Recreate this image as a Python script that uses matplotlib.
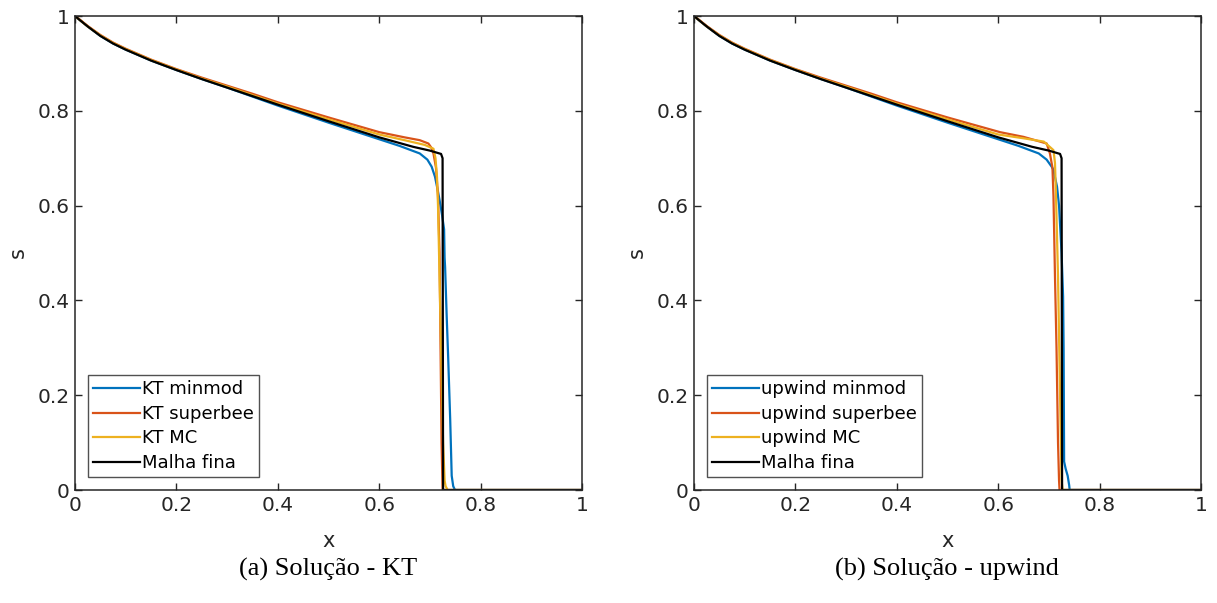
import matplotlib
matplotlib.use("Agg")
import matplotlib.pyplot as plt

# ---------------- data ----------------
ticks = [0, 0.2, 0.4, 0.6, 0.8, 1]
tick_labels = ["0", "0.2", "0.4", "0.6", "0.8", "1"]

# fine mesh reference (same in both panels)
x_fine = [0, 0.01, 0.025, 0.05, 0.075, 0.1, 0.15, 0.2, 0.25, 0.3, 0.35, 0.4, 0.5, 0.6, 0.667,
          0.7, 0.722, 0.725, 0.726, 1.0]
s_fine = [1, 0.991, 0.978, 0.958, 0.942, 0.929, 0.906, 0.886, 0.867, 0.849, 0.831, 0.813,
          0.778, 0.744, 0.724, 0.716, 0.709, 0.700, 0.0, 0.0]

# KT panel
x_kt_minmod = [0, 0.01, 0.025, 0.05, 0.075, 0.1, 0.15, 0.2, 0.25, 0.3, 0.35, 0.4, 0.5, 0.6,
               0.64, 0.68, 0.695, 0.7035, 0.71, 0.715, 0.719, 0.724, 0.728, 0.729, 0.730,
               0.733, 0.736, 0.740, 0.743, 0.746, 0.7495, 1.0]
s_kt_minmod = [1, 0.991, 0.978, 0.958, 0.942, 0.929, 0.906, 0.886, 0.867, 0.849, 0.830, 0.811,
               0.775, 0.740, 0.726, 0.710, 0.697, 0.682, 0.661, 0.635, 0.612, 0.58, 0.55,
               0.49, 0.47, 0.37, 0.281, 0.15, 0.03, 0.008, 0, 0]

x_kt_superbee = [0, 0.01, 0.025, 0.05, 0.075, 0.1, 0.15, 0.2, 0.25, 0.3, 0.35, 0.4, 0.5, 0.6,
                 0.65, 0.68, 0.697, 0.703, 0.707, 0.712, 0.716, 0.719, 0.721, 0.723, 0.725, 1.0]
s_kt_superbee = [1, 0.992, 0.979, 0.960, 0.944, 0.931, 0.908, 0.888, 0.870, 0.853, 0.836,
                 0.818, 0.786, 0.755, 0.744, 0.738, 0.731, 0.722, 0.710, 0.68, 0.62, 0.5, 0.3,
                 0.1, 0, 0]

x_kt_mc = [0, 0.01, 0.025, 0.05, 0.075, 0.1, 0.15, 0.2, 0.25, 0.3, 0.35, 0.4, 0.5, 0.6, 0.65,
           0.69, 0.707, 0.711, 0.714, 0.716, 0.72, 0.726, 0.729, 0.731, 0.735, 1.0]
s_kt_mc = [1, 0.991, 0.978, 0.959, 0.943, 0.930, 0.907, 0.887, 0.868, 0.851, 0.833, 0.815,
           0.782, 0.750, 0.738, 0.728, 0.720, 0.70, 0.66, 0.6, 0.4, 0.1, 0.02, 0.008, 0, 0]

# upwind panel
x_up_minmod = [0, 0.01, 0.025, 0.05, 0.075, 0.1, 0.15, 0.2, 0.25, 0.3, 0.35, 0.4, 0.5, 0.6,
               0.64, 0.68, 0.6955, 0.7055, 0.709, 0.712, 0.716, 0.72, 0.725, 0.728, 0.729,
               0.730, 0.733, 0.737, 0.740, 0.741, 1.0]
s_up_minmod = [1, 0.991, 0.978, 0.958, 0.942, 0.929, 0.906, 0.886, 0.867, 0.849, 0.830, 0.811,
               0.775, 0.740, 0.726, 0.710, 0.697, 0.682, 0.675, 0.66, 0.64, 0.6, 0.5, 0.408,
               0.3, 0.06, 0.045, 0.03, 0.01, 0, 0]

x_up_superbee = [0, 0.01, 0.025, 0.05, 0.075, 0.1, 0.15, 0.2, 0.25, 0.3, 0.35, 0.4, 0.5,
                 0.6035, 0.65, 0.6956, 0.702, 0.707, 0.709, 0.712, 0.715, 0.718, 0.72, 0.721,
                 1.0]
s_up_superbee = [1, 0.992, 0.979, 0.960, 0.944, 0.931, 0.908, 0.888, 0.870, 0.853, 0.836,
                 0.818, 0.786, 0.755, 0.745, 0.731, 0.710, 0.68, 0.62, 0.45, 0.3, 0.1, 0.02,
                 0, 0]

x_up_mc = [0, 0.01, 0.025, 0.05, 0.075, 0.1, 0.15, 0.2, 0.25, 0.3, 0.35, 0.4, 0.5, 0.6, 0.65,
           0.69, 0.709, 0.712, 0.714, 0.718, 0.722, 0.725, 0.727, 1.0]
s_up_mc = [1, 0.991, 0.978, 0.959, 0.943, 0.930, 0.907, 0.887, 0.868, 0.851, 0.833, 0.815,
           0.782, 0.750, 0.742, 0.735, 0.717, 0.69, 0.62, 0.45, 0.2, 0.02, 0, 0]

labels_kt = ["KT minmod", "KT superbee", "KT MC", "Malha fina"]
labels_up = ["upwind minmod", "upwind superbee", "upwind MC", "Malha fina"]
captions = ["(a) Solução - KT", "(b) Solução - upwind"]

colors = ["#0072BD", "#D95319", "#EDB120", "#000000"]

# ---------------- figure ----------------
plt.rcParams["font.family"] = ["DejaVu Sans"]
fig = plt.figure(figsize=(12.17, 6.03), dpi=100)

W, H = 1217.0, 603.0
ax1 = fig.add_axes([75 / W, 1 - 490 / H, 507 / W, 474 / H])
ax2 = fig.add_axes([694 / W, 1 - 490 / H, 507 / W, 474 / H])

panels = [
    (ax1, [(x_kt_minmod, s_kt_minmod), (x_kt_superbee, s_kt_superbee),
           (x_kt_mc, s_kt_mc), (x_fine, s_fine)], labels_kt),
    (ax2, [(x_up_minmod, s_up_minmod), (x_up_superbee, s_up_superbee),
           (x_up_mc, s_up_mc), (x_fine, s_fine)], labels_up),
]

axcol = "#262626"
for ax, series, labels in panels:
    for (xs, ss), c, lab in zip(series, colors, labels):
        ax.plot(xs, ss, color=c, lw=1.6, label=lab)
    ax.set_xlim(0, 1)
    ax.set_ylim(0, 1)
    ax.set_xticks(ticks)
    ax.set_xticklabels(tick_labels)
    ax.set_yticks(ticks)
    ax.set_yticklabels(tick_labels)
    ax.tick_params(direction="in", length=5, width=1, top=True, right=True,
                   labelsize=14.5, colors=axcol, pad=4)
    for sp in ax.spines.values():
        sp.set_color(axcol)
        sp.set_linewidth(1.1)
    ax.set_xlabel("x", fontsize=15, color=axcol, labelpad=12)
    ax.set_ylabel("s", fontsize=15, color=axcol, labelpad=7)
    leg = ax.legend(loc="lower left", fontsize=13, frameon=True, fancybox=False,
                    handlelength=2.6, handletextpad=0.1, borderpad=0.3,
                    labelspacing=0.36, borderaxespad=0.7)
    leg.get_frame().set_edgecolor(axcol)
    leg.get_frame().set_linewidth(1.0)

fig.text(328 / W, 1 - 569 / H, captions[0], family="Liberation Serif", fontsize=19,
         ha="center", va="center", color="black")
fig.text(947 / W, 1 - 569 / H, captions[1], family="Liberation Serif", fontsize=19,
         ha="center", va="center", color="black")

fig.savefig("out.png", dpi=100)
